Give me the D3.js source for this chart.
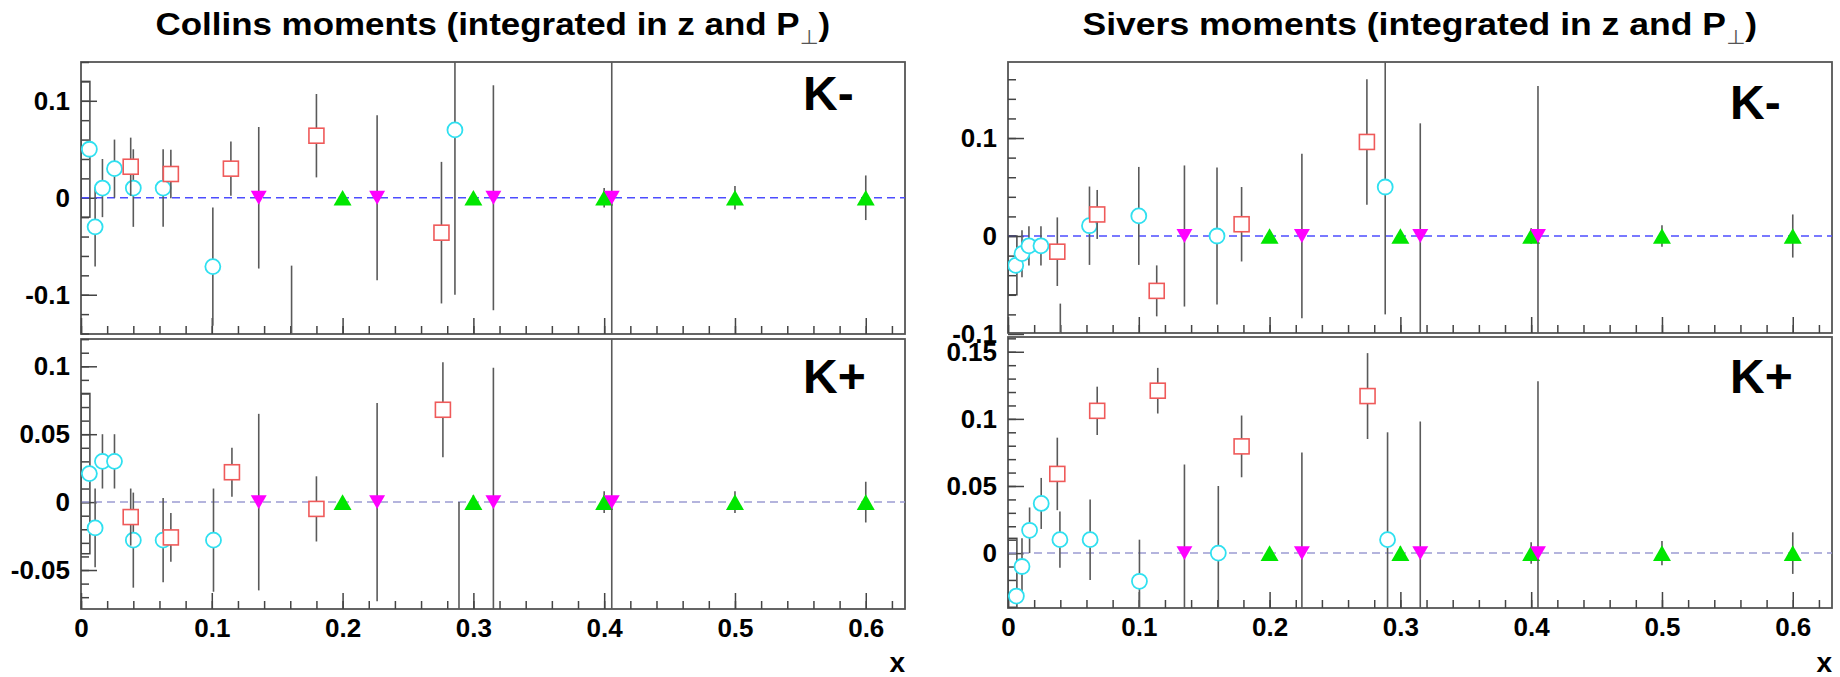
<!DOCTYPE html>
<meta charset="utf-8">
<script src="https://d3js.org/d3.v7.min.js"></script>
<style>
  body { margin: 0; background: #fff; font-family: 'Liberation Sans', Arial, sans-serif; }
  .axis .domain { display: none; }
  .axis line { stroke: #444; stroke-width: 1.5; }
  .axis text { font-family: 'Liberation Sans', Arial, sans-serif; font-weight: bold; font-size: 26px; fill: #000; }
</style>
<body>
<svg width="1840" height="677"></svg>
<script>

// ---- data: [x, value, error] ----
// Collins, K-
var collinsKmCircles = [[0.0064, 0.05, 0.07], [0.0108, -0.03, 0.041], [0.0164, 0.010, 0.030], [0.0256, 0.030, 0.030],
  [0.040, 0.010, 0.040], [0.0628, 0.010, 0.040], [0.1008, -0.071, 0.061], [0.161, -0.16, 0.09], [0.2859, 0.070, 0.170]];
var collinsKmSquares = [[0.038, 0.032, 0.030], [0.0687, 0.0245, 0.025], [0.1146, 0.030, 0.028], [0.180, 0.064, 0.043], [0.2756, -0.036, 0.073]];
var collinsKmDown = [[0.1359, 0, 0.073], [0.2264, 0, 0.085], [0.3153, 0, 0.116], [0.4058, 0, 0.5]];
var collinsKmUp = [[0.2, 0, 0.004], [0.3, 0, 0.005], [0.4, 0, 0.01], [0.5, 0, 0.012], [0.6, 0, 0.023]];

// Collins, K+
var collinsKpCircles = [[0.0064, 0.021, 0.059], [0.0108, -0.019, 0.029], [0.0164, 0.030, 0.020], [0.0256, 0.030, 0.020],
  [0.040, -0.028, 0.035], [0.0628, -0.028, 0.031], [0.1013, -0.028, 0.038], [0.289, -0.10, 0.10]];
var collinsKpSquares = [[0.038, -0.011, 0.021], [0.0687, -0.026, 0.018], [0.1154, 0.022, 0.018], [0.180, -0.005, 0.024], [0.2767, 0.068, 0.035]];
var collinsKpDown = [[0.1359, 0, 0.065], [0.2264, 0, 0.073], [0.3153, 0, 0.099], [0.4058, 0, 0.5]];
var collinsKpUp = [[0.2, 0, 0.004], [0.3, 0, 0.005], [0.4, 0, 0.008], [0.5, 0, 0.008], [0.6, 0, 0.015]];

// Sivers, K-
var siversKmCircles = [[0.0059, -0.030, 0.030], [0.0107, -0.018, 0.024], [0.016, -0.010, 0.020], [0.0252, -0.010, 0.020],
  [0.040, -0.13, 0.061], [0.0623, 0.0105, 0.040], [0.100, 0.0205, 0.050], [0.1598, 0, 0.070], [0.2884, 0.050, 0.130]];
var siversKmSquares = [[0.0377, -0.016, 0.035], [0.0682, 0.022, 0.025], [0.1137, -0.056, 0.026], [0.1786, 0.012, 0.038], [0.2744, 0.096, 0.064]];
var siversKmDown = [[0.1349, 0, 0.072], [0.2247, 0, 0.084], [0.3152, 0, 0.115], [0.4052, 0, 0.153]];
var siversKmUp = [[0.2, 0, 0.004], [0.3, 0, 0.005], [0.4, 0, 0.008], [0.5, 0, 0.011], [0.6, 0, 0.022]];

// Sivers, K+
var siversKpCircles = [[0.0064, -0.032, 0.043], [0.0107, -0.010, 0.021], [0.0165, 0.017, 0.017], [0.0254, 0.037, 0.019],
  [0.0397, 0.010, 0.021], [0.0628, 0.010, 0.030], [0.1005, -0.021, 0.031], [0.1608, 0, 0.050], [0.2902, 0.010, 0.080]];
var siversKpSquares = [[0.0377, 0.059, 0.027], [0.0682, 0.106, 0.018], [0.1145, 0.121, 0.017], [0.1786, 0.0795, 0.023], [0.2749, 0.117, 0.032]];
var siversKpDown = [[0.1349, 0, 0.066], [0.2247, 0, 0.075], [0.3152, 0, 0.098], [0.4052, 0, 0.128]];
var siversKpUp = [[0.2, 0, 0.004], [0.3, 0, 0.005], [0.4, 0, 0.008], [0.5, 0, 0.009], [0.6, 0, 0.0155]];

// first circle of each panel has its error drawn as a box from x=0
var firstBinEdge = 0.0068;

// tick labels
var xTickValues = [0, 0.1, 0.2, 0.3, 0.4, 0.5, 0.6];
var xTickLabels = ["0", "0.1", "0.2", "0.3", "0.4", "0.5", "0.6"];
var yTicksWide = [-0.1, 0, 0.1];
var yLabelsWide = ["-0.1", "0", "0.1"];
var yTicksCollinsKp = [-0.05, 0, 0.05, 0.1];
var yLabelsCollinsKp = ["-0.05", "0", "0.05", "0.1"];
var yTicksSiversKp = [0, 0.05, 0.1, 0.15];
var yLabelsSiversKp = ["0", "0.05", "0.1", "0.15"];

var titles = ["Collins moments (integrated in z and P", "Sivers moments (integrated in z and P"];

var svg = d3.select("svg");

var panels = [
  {left: 81, right: 905, top: 62, bottom: 334, yDom: [-0.1405, 0.14], yTicks: yTicksWide, yLabels: yLabelsWide, minor: 0.02,
   label: "K-", lx: 803, ly: 110, xLabels: false, zero: "#4d4dff",
   circles: collinsKmCircles, squares: collinsKmSquares, down: collinsKmDown, up: collinsKmUp},
  {left: 81, right: 905, top: 339, bottom: 609, yDom: [-0.0787, 0.1201], yTicks: yTicksCollinsKp, yLabels: yLabelsCollinsKp, minor: 0.01,
   label: "K+", lx: 803, ly: 393, xLabels: true, zero: "#9c9cd2",
   circles: collinsKpCircles, squares: collinsKpSquares, down: collinsKpDown, up: collinsKpUp},
  {left: 1008, right: 1832, top: 62, bottom: 333, yDom: [-0.099, 0.1776], yTicks: yTicksWide, yLabels: yLabelsWide, minor: 0.02,
   label: "K-", lx: 1730, ly: 119, xLabels: false, zero: "#4d4dff",
   circles: siversKmCircles, squares: siversKmSquares, down: siversKmDown, up: siversKmUp},
  {left: 1008, right: 1832, top: 337, bottom: 608, yDom: [-0.0409, 0.161], yTicks: yTicksSiversKp, yLabels: yLabelsSiversKp, minor: 0.01,
   label: "K+", lx: 1730, ly: 393, xLabels: true, zero: "#9c9cd2",
   circles: siversKpCircles, squares: siversKpSquares, down: siversKpDown, up: siversKpUp}
];

var upSize = 140, downSize = 110;
function triShift(size) { return Math.sqrt(size / (Math.sqrt(3) * 3)) / 2; }

panels.forEach(function(p, pi) {
  var x = d3.scaleLinear().domain([0, 0.63]).range([p.left, p.right]);
  var y = d3.scaleLinear().domain(p.yDom).range([p.bottom, p.top]);

  var clipId = "clip" + pi;
  svg.append("clipPath").attr("id", clipId)
    .append("rect")
      .attr("x", p.left).attr("y", p.top)
      .attr("width", p.right - p.left).attr("height", p.bottom - p.top);

  // frame
  svg.append("rect")
    .attr("x", p.left).attr("y", p.top)
    .attr("width", p.right - p.left).attr("height", p.bottom - p.top)
    .attr("fill", "#fff").attr("stroke", "#555").attr("stroke-width", 1.8);

  // minor ticks
  var yMinor = d3.range(-20, 21).map(function(i) { return +(i * p.minor).toFixed(3); })
    .filter(function(v) { return v >= p.yDom[0] && v <= p.yDom[1]; });
  var xMinor = d3.range(0, 32).map(function(i) { return +(i * 0.02).toFixed(3); });

  svg.append("g").attr("class", "axis")
    .attr("transform", "translate(" + p.left + ",0)")
    .call(d3.axisLeft(y).tickValues(yMinor).tickSize(-8).tickFormat(""));
  svg.append("g").attr("class", "axis")
    .attr("transform", "translate(0," + p.bottom + ")")
    .call(d3.axisBottom(x).tickValues(xMinor).tickSize(-8).tickFormat(""));

  // major ticks + labels
  svg.append("g").attr("class", "axis")
    .attr("transform", "translate(" + p.left + ",0)")
    .call(d3.axisLeft(y).tickValues(p.yTicks).tickSize(-16).tickPadding(11)
      .tickFormat(function(d, i) { return p.yLabels[i]; }));
  svg.append("g").attr("class", "axis")
    .attr("transform", "translate(0," + p.bottom + ")")
    .call(d3.axisBottom(x).tickValues(xTickValues).tickSize(-16).tickPadding(9.5)
      .tickFormat(function(d, i) { return p.xLabels ? xTickLabels[i] : ""; }));

  var g = svg.append("g").attr("clip-path", "url(#" + clipId + ")");

  // zero line
  g.append("line")
    .attr("x1", p.left).attr("x2", p.right)
    .attr("y1", y(0)).attr("y2", y(0))
    .attr("stroke", p.zero).attr("stroke-width", 1.5)
    .attr("stroke-dasharray", "8,5");

  function bars(data, skipFirst) {
    g.append("g")
      .selectAll("line")
      .data(skipFirst ? data.slice(1) : data)
      .enter().append("line")
        .attr("x1", function(d) { return x(d[0]); })
        .attr("x2", function(d) { return x(d[0]); })
        .attr("y1", function(d) { return y(d[1] - d[2]); })
        .attr("y2", function(d) { return y(d[1] + d[2]); })
        .attr("stroke", "#5a5a5a").attr("stroke-width", 1.6);
  }

  // box error of the first bin
  var b = p.circles[0];
  g.append("rect")
    .attr("x", x(0)).attr("width", x(firstBinEdge) - x(0))
    .attr("y", y(b[1] + b[2])).attr("height", y(b[1] - b[2]) - y(b[1] + b[2]))
    .attr("fill", "none").attr("stroke", "#444").attr("stroke-width", 1.5);

  // cyan circles
  bars(p.circles, true);
  g.append("g").selectAll("circle")
    .data(p.circles)
    .enter().append("circle")
      .attr("cx", function(d) { return x(d[0]); })
      .attr("cy", function(d) { return y(d[1]); })
      .attr("r", 7.5)
      .attr("fill", "#fff").attr("stroke", "#2fe0f0").attr("stroke-width", 1.8);

  // red squares
  bars(p.squares, false);
  g.append("g").selectAll("rect")
    .data(p.squares)
    .enter().append("rect")
      .attr("x", function(d) { return x(d[0]) - 7.5; })
      .attr("y", function(d) { return y(d[1]) - 7.5; })
      .attr("width", 15).attr("height", 15)
      .attr("fill", "#fff").attr("stroke", "#ef5a5a").attr("stroke-width", 1.6);

  // green up triangles
  bars(p.up, false);
  g.append("g").selectAll("path")
    .data(p.up)
    .enter().append("path")
      .attr("d", d3.symbol().type(d3.symbolTriangle).size(upSize))
      .attr("transform", function(d) { return "translate(" + x(d[0]) + "," + (y(d[1]) + triShift(upSize)) + ")"; })
      .attr("fill", "#00e600");

  // magenta down triangles
  bars(p.down, false);
  g.append("g").selectAll("path")
    .data(p.down)
    .enter().append("path")
      .attr("d", d3.symbol().type(d3.symbolTriangle).size(downSize))
      .attr("transform", function(d) { return "translate(" + x(d[0]) + "," + (y(d[1]) - triShift(downSize)) + ") rotate(180)"; })
      .attr("fill", "#ff00ff");

  // K label
  svg.append("text")
    .attr("x", p.lx).attr("y", p.ly)
    .attr("font-size", 48).attr("font-weight", "bold")
    .text(p.label);

  if (p.xLabels) {
    svg.append("text")
      .attr("x", p.right).attr("y", 672)
      .attr("text-anchor", "end")
      .attr("font-size", 28).attr("font-weight", "bold")
      .text("x");
  }
});

// titles, squeezed to the width seen in the picture
[493, 1420].forEach(function(cx, i) {
  var t = svg.append("text")
    .attr("y", 35)
    .attr("font-size", 32).attr("font-weight", "bold")
    .attr("font-family", "'Liberation Sans', 'DejaVu Sans', sans-serif");
  t.append("tspan").text(titles[i]);
  t.append("tspan").attr("font-size", 20).attr("dy", 9).attr("font-family", "'DejaVu Sans', sans-serif")
    .attr("font-weight", "normal").attr("fill", "#555").text("\u22A5");
  t.append("tspan").attr("dy", -9).text(")");
  var w = t.node().getComputedTextLength();
  var k = 675 / w;
  t.attr("transform", "translate(" + (cx - 675 / 2) + ",0) scale(" + k + ",1)");
});

</script>
</body>
